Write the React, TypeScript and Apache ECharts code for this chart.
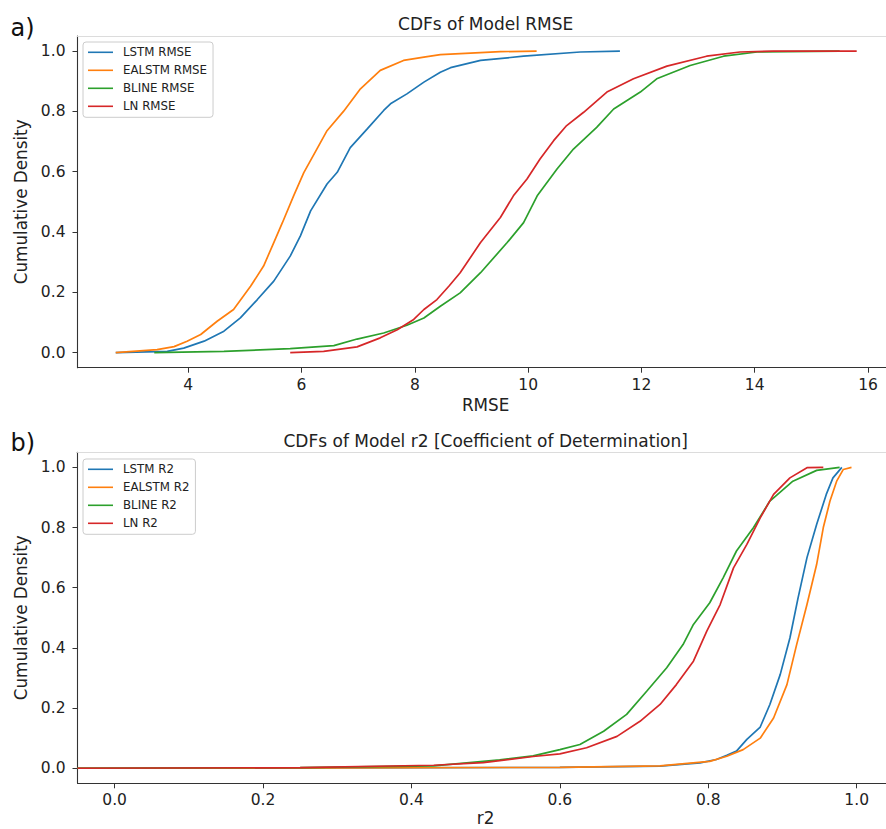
import React, { useEffect, useRef } from "react";
import * as echarts from "echarts";

// ---------- data ----------
const rmseTicks = [4, 6, 8, 10, 12, 14, 16];
const r2Ticks = [0, 0.2, 0.4, 0.6, 0.8, 1.0];
const yTicks = [0, 0.2, 0.4, 0.6, 0.8, 1.0];

const rmseNames = ["LSTM RMSE", "EALSTM RMSE", "BLINE RMSE", "LN RMSE"];
const r2Names = ["LSTM R2", "EALSTM R2", "BLINE R2", "LN R2"];
const colors = ["#1f77b4", "#ff7f0e", "#2ca02c", "#d62728"];

const lstmRmse = [
  [2.72, 0], [3.63, 0.004], [3.92, 0.015], [4.28, 0.038], [4.63, 0.071], [4.92, 0.115],
  [5.22, 0.176], [5.51, 0.237], [5.8, 0.32], [5.98, 0.387], [6.16, 0.47], [6.45, 0.559],
  [6.63, 0.598], [6.86, 0.68], [7.16, 0.742], [7.45, 0.803], [7.57, 0.825], [7.86, 0.858],
  [8.16, 0.897], [8.45, 0.93], [8.63, 0.945], [9.16, 0.969], [9.92, 0.983], [10.92, 0.997],
  [11.62, 1.0],
];
const ealstmRmse = [
  [2.72, 0], [3.45, 0.01], [3.75, 0.02], [3.98, 0.038], [4.22, 0.06], [4.51, 0.104],
  [4.8, 0.143], [5.1, 0.22], [5.33, 0.287], [5.51, 0.365], [5.66, 0.43], [5.86, 0.52],
  [6.04, 0.597], [6.27, 0.675], [6.45, 0.736], [6.74, 0.8], [7.04, 0.875], [7.39, 0.936],
  [7.8, 0.969], [8.16, 0.98], [8.45, 0.988], [9.51, 0.998], [10.15, 1.0],
];
const blineRmse = [
  [3.4, 0], [4.63, 0.004], [5.8, 0.013], [6.57, 0.023], [6.98, 0.045], [7.45, 0.065],
  [7.86, 0.091], [8.16, 0.115], [8.45, 0.154], [8.8, 0.198], [9.16, 0.265], [9.63, 0.365],
  [9.92, 0.431], [10.16, 0.52], [10.51, 0.609], [10.8, 0.675], [11.21, 0.747], [11.51, 0.808],
  [11.98, 0.864], [12.27, 0.908], [12.86, 0.952], [13.45, 0.983], [14.04, 0.997], [15.5, 1.0],
];
const lnRmse = [
  [5.8, 0], [6.39, 0.004], [6.98, 0.019], [7.39, 0.049], [7.69, 0.076], [7.98, 0.11],
  [8.16, 0.143], [8.39, 0.176], [8.6, 0.22], [8.8, 0.265], [9.16, 0.365], [9.51, 0.448],
  [9.74, 0.52], [9.98, 0.576], [10.21, 0.642], [10.45, 0.703], [10.68, 0.753], [10.98, 0.797],
  [11.39, 0.864], [11.86, 0.908], [12.45, 0.95], [13.15, 0.983], [13.74, 0.997], [14.33, 1.0],
  [15.8, 1.0],
];

const lstmR2 = [
  [-0.05, 0], [0.3, 0.001], [0.6, 0.003], [0.735, 0.007], [0.789, 0.018], [0.811, 0.029],
  [0.825, 0.043], [0.838, 0.057], [0.852, 0.096], [0.87, 0.137], [0.883, 0.212], [0.897, 0.312],
  [0.91, 0.433], [0.921, 0.566], [0.933, 0.7], [0.946, 0.81], [0.959, 0.91], [0.968, 0.965],
  [0.98, 1.0],
];
const ealstmR2 = [
  [-0.05, 0], [0.3, 0.001], [0.6, 0.003], [0.735, 0.008], [0.802, 0.023], [0.825, 0.04],
  [0.847, 0.062], [0.87, 0.1], [0.888, 0.167], [0.906, 0.278], [0.919, 0.41], [0.933, 0.544],
  [0.946, 0.677], [0.955, 0.8], [0.964, 0.888], [0.973, 0.954], [0.982, 0.993], [0.993, 1.0],
];
const blineR2 = [
  [-0.05, 0], [0.25, 0.002], [0.43, 0.008], [0.519, 0.028], [0.564, 0.041], [0.6, 0.062],
  [0.627, 0.079], [0.659, 0.123], [0.69, 0.179], [0.717, 0.256], [0.744, 0.334], [0.766, 0.411],
  [0.78, 0.478], [0.802, 0.55], [0.82, 0.633], [0.838, 0.722], [0.861, 0.8], [0.883, 0.888],
  [0.914, 0.954], [0.946, 0.99], [0.977, 1.0],
];
const lnR2 = [
  [-0.05, 0], [0.25, 0.002], [0.43, 0.01], [0.497, 0.019], [0.564, 0.039], [0.6, 0.048],
  [0.636, 0.068], [0.677, 0.106], [0.708, 0.156], [0.735, 0.212], [0.757, 0.278], [0.78, 0.356],
  [0.798, 0.456], [0.816, 0.544], [0.834, 0.666], [0.852, 0.744], [0.87, 0.832], [0.888, 0.91],
  [0.91, 0.965], [0.933, 0.999], [0.955, 1.0],
];

const rmseSeries = [lstmRmse, ealstmRmse, blineRmse, lnRmse];
const r2Series = [lstmR2, ealstmR2, blineR2, lnR2];

const FONT = "DejaVu Sans";
const DARK = "#222";
const SPINE = "#333";

function mainX(gridIndex: number, min: number, max: number, ticks: number[], name: string, nameGap: number, fmt: (v: number) => string) {
  return {
    gridIndex,
    type: "value",
    min,
    max,
    position: "bottom",
    name,
    nameLocation: "middle",
    nameGap,
    nameTextStyle: { fontSize: 16.8, lineHeight: 14, color: DARK, fontFamily: FONT },
    axisLine: { show: true, onZero: false, lineStyle: { color: SPINE, width: 1.1 } },
    axisTick: { show: true, length: 5, inside: false, customValues: ticks, lineStyle: { color: SPINE, width: 1 } },
    axisLabel: { show: true, customValues: ticks, fontSize: 15.5, color: DARK, fontFamily: FONT, margin: 9, formatter: (v: number) => fmt(v) },
    splitLine: { show: false },
  };
}
function topX(gridIndex: number, min: number, max: number) {
  return {
    gridIndex,
    type: "value",
    min,
    max,
    position: "top",
    axisLine: { show: true, onZero: false, lineStyle: { color: "#dcdcdc", width: 1.1 } },
    axisTick: { show: false },
    axisLabel: { show: false },
    splitLine: { show: false },
  };
}
function mainY(gridIndex: number) {
  return {
    gridIndex,
    type: "value",
    min: -0.05,
    max: 1.05,
    name: "Cumulative Density",
    nameLocation: "middle",
    nameGap: 35,
    nameTextStyle: { fontSize: 16.8, color: DARK, fontFamily: FONT },
    axisLine: { show: true, onZero: false, lineStyle: { color: SPINE, width: 1.1 } },
    axisTick: { show: true, length: 5, customValues: yTicks, lineStyle: { color: SPINE, width: 1 } },
    axisLabel: { show: true, customValues: yTicks, fontSize: 15.5, color: DARK, fontFamily: FONT, margin: 12, formatter: (v: number) => v.toFixed(1) },
    splitLine: { show: false },
  };
}
function legend(names: string[], top: number) {
  return {
    data: names,
    orient: "vertical",
    left: 83,
    top,
    icon: "rect",
    itemWidth: 25,
    itemHeight: 1.6,
    itemGap: 6,
    padding: [4.3, 6, 5, 5],
    borderColor: "#cccccc",
    borderWidth: 1,
    borderRadius: 3,
    backgroundColor: "rgba(255,255,255,0.8)",
    textStyle: { fontSize: 11.8, lineHeight: 12, color: DARK, fontFamily: FONT, padding: [0, 0, 0, 5] },
  };
}

export default function App() {
  const ref = useRef<HTMLDivElement>(null);
  useEffect(() => {
    if (!ref.current) return;
    const chart = echarts.init(ref.current, undefined, { renderer: "svg" });
    const series: any[] = [];
    const mk = (n: string, i: number, xi: number, yi: number, data: number[][]) => ({
      name: n, type: "line", xAxisIndex: xi, yAxisIndex: yi, data,
      showSymbol: false, symbol: "none", color: colors[i],
      lineStyle: { color: colors[i], width: 1.7 }, clip: true,
    });
    rmseNames.forEach((n, i) => series.push(mk(n, i, 0, 0, rmseSeries[i])));
    r2Names.forEach((n, i) => series.push(mk(n, i, 2, 1, r2Series[i])));
    chart.setOption({
      animation: false,
      backgroundColor: "#ffffff",
      textStyle: { fontFamily: FONT },
      grid: [
        { left: 77.5, top: 36, width: 816.3, height: 331.7, outerBoundsMode: "none", containLabel: false },
        { left: 77.5, top: 452.3, width: 816.3, height: 331, outerBoundsMode: "none", containLabel: false },
      ],
      xAxis: [
        mainX(0, 2.045, 16.455, rmseTicks, "RMSE", 30.5, (v) => String(v)),
        topX(0, 2.045, 16.455),
        mainX(1, -0.05, 1.05, r2Ticks, "r2", 27.5, (v) => v.toFixed(1)),
        topX(1, -0.05, 1.05),
      ],
      yAxis: [mainY(0), mainY(1)],
      legend: [legend(rmseNames, 42), legend(r2Names, 459)],
      graphic: [
        { type: "text", x: 485.7, y: 24.2, style: { text: "CDFs of Model RMSE", fontSize: 17, fontFamily: FONT, fill: DARK, align: "center", verticalAlign: "middle" } },
        { type: "text", x: 485.7, y: 440.5, style: { text: "CDFs of Model r2 [Coefficient of Determination]", fontSize: 17, fontFamily: FONT, fill: DARK, align: "center", verticalAlign: "middle" } },
        { type: "text", x: 10.5, y: 27.5, style: { text: "a)", fontSize: 24, fontFamily: FONT, fill: "#111", align: "left", verticalAlign: "middle" } },
        { type: "text", x: 10.5, y: 442.5, style: { text: "b)", fontSize: 24, fontFamily: FONT, fill: "#111", align: "left", verticalAlign: "middle" } },
      ],
      series,
    });
    return () => chart.dispose();
  }, []);
  return (
    <div style={{ position: "fixed", left: 0, top: 0, width: 886, height: 829, overflow: "hidden", background: "#fff" }}>
      <div ref={ref} style={{ width: 900, height: 829 }} />
    </div>
  );
}
